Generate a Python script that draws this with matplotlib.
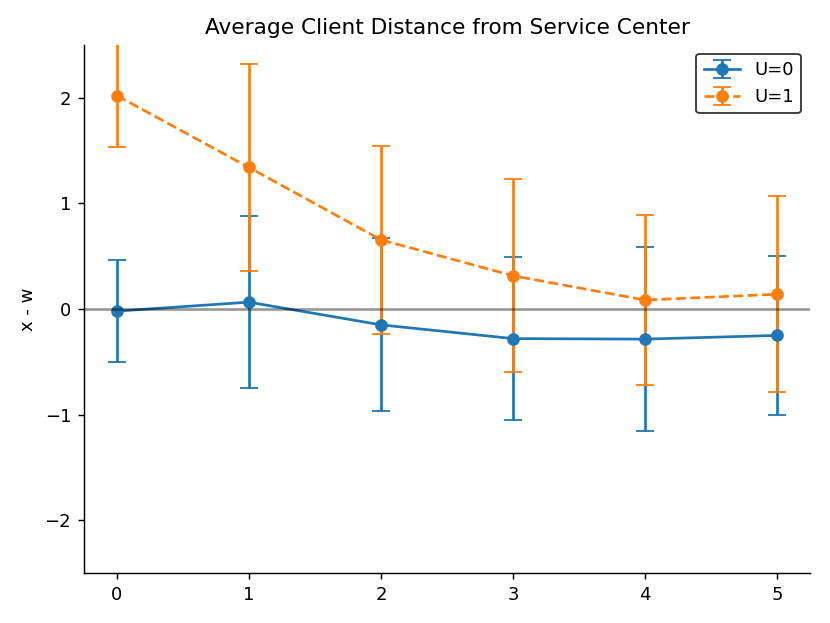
import matplotlib
matplotlib.use("Agg")
import matplotlib.pyplot as plt

x = [0, 1, 2, 3, 4, 5]
u0_mean = [-0.02, 0.065, -0.15, -0.28, -0.285, -0.25]
u0_err = [0.485, 0.815, 0.82, 0.77, 0.87, 0.75]
u1_mean = [2.02, 1.34, 0.655, 0.315, 0.085, 0.14]
u1_err = [0.49, 0.98, 0.89, 0.915, 0.805, 0.93]

fig = plt.figure(figsize=(830/130, 623/130), dpi=130)
ax = fig.add_axes([0.101, 0.080, 0.875, 0.848])
ax.errorbar(x, u0_mean, yerr=u0_err, fmt='-o', capsize=5, label='U=0', color='#1f77b4')
ax.errorbar(x, u1_mean, yerr=u1_err, fmt='--o', capsize=5, label='U=1', color='#ff7f0e')
ax.axhline(0, color='k', alpha=0.4, zorder=3)
ax.set_ylim(-2.5, 2.5)
ax.set_xlim(-0.25, 5.25)
ax.set_ylabel('x - w')
ax.set_title('Average Client Distance from Service Center')
ax.spines['top'].set_visible(False)
ax.spines['right'].set_visible(False)
ax.legend(loc='upper right', edgecolor='k', fancybox=True)
fig.savefig('out.png', dpi=130)
